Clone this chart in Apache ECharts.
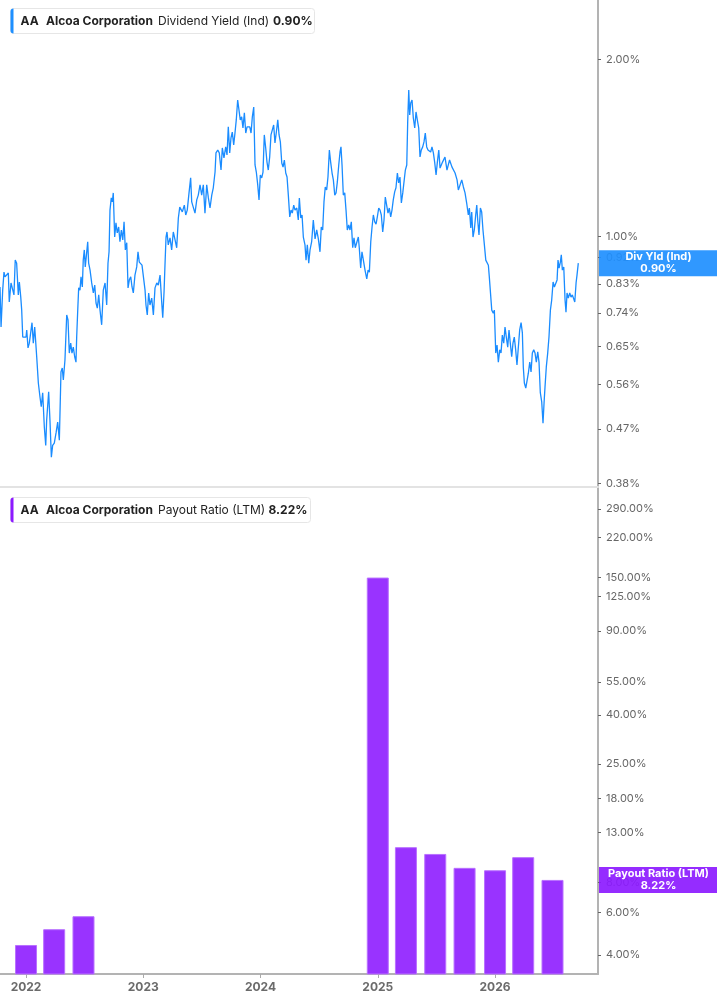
<!DOCTYPE html>
<html>
<head>
<meta charset="utf-8">
<title>AA Dividend Yield / Payout Ratio</title>
<script src="https://cdn.jsdelivr.net/npm/echarts@6.0.0/dist/echarts.min.js"></script>
<style>
    html, body { margin: 0; padding: 0; background: #fff; }
    #chart { width: 717px; height: 1005px; }
</style>
</head>
<body>
<div id="chart"></div>
<script>
// dividend yield (ind), % -- x is decimal year
const yldYears = [
    2021.778, 2021.787, 2021.801, 2021.812, 2021.821, 2021.835, 2021.849, 2021.857, 2021.872, 2021.886,
    2021.897, 2021.908, 2021.920, 2021.934, 2021.943, 2021.955, 2021.963, 2021.972, 2021.985, 2022.000,
    2022.006, 2022.017, 2022.028, 2022.040, 2022.051, 2022.062, 2022.074, 2022.091, 2022.105, 2022.119,
    2022.130, 2022.142, 2022.156, 2022.168, 2022.176, 2022.193, 2022.204, 2022.216, 2022.227, 2022.241,
    2022.256, 2022.270, 2022.284, 2022.298, 2022.309, 2022.318, 2022.332, 2022.347, 2022.358, 2022.369,
    2022.381, 2022.392, 2022.403, 2022.415, 2022.426, 2022.432, 2022.441, 2022.449, 2022.460, 2022.469,
    2022.480, 2022.488, 2022.497, 2022.505, 2022.517, 2022.526, 2022.534, 2022.546, 2022.560, 2022.574,
    2022.586, 2022.597, 2022.608, 2022.620, 2022.631, 2022.645, 2022.659, 2022.674, 2022.688, 2022.699,
    2022.708, 2022.716, 2022.727, 2022.736, 2022.744, 2022.756, 2022.767, 2022.778, 2022.790, 2022.801,
    2022.813, 2022.825, 2022.836, 2022.847, 2022.859, 2022.870, 2022.881, 2022.893, 2022.904, 2022.915,
    2022.929, 2022.944, 2022.955, 2022.966, 2022.978, 2022.989, 2023.000, 2023.015, 2023.023, 2023.034,
    2023.046, 2023.057, 2023.072, 2023.086, 2023.100, 2023.115, 2023.128, 2023.143, 2023.157, 2023.166,
    2023.177, 2023.185, 2023.194, 2023.202, 2023.213, 2023.228, 2023.242, 2023.256, 2023.271, 2023.285,
    2023.299, 2023.311, 2023.322, 2023.333, 2023.350, 2023.362, 2023.375, 2023.390, 2023.404, 2023.413,
    2023.427, 2023.441, 2023.456, 2023.469, 2023.484, 2023.498, 2023.512, 2023.526, 2023.541, 2023.555,
    2023.569, 2023.584, 2023.597, 2023.612, 2023.620, 2023.635, 2023.648, 2023.663, 2023.674, 2023.688,
    2023.703, 2023.714, 2023.725, 2023.737, 2023.748, 2023.759, 2023.771, 2023.782, 2023.793, 2023.805,
    2023.816, 2023.827, 2023.839, 2023.850, 2023.862, 2023.874, 2023.885, 2023.896, 2023.908, 2023.919,
    2023.930, 2023.942, 2023.953, 2023.964, 2023.976, 2023.987, 2023.998, 2024.010, 2024.021, 2024.032,
    2024.044, 2024.055, 2024.066, 2024.078, 2024.089, 2024.100, 2024.112, 2024.123, 2024.135, 2024.147,
    2024.158, 2024.169, 2024.181, 2024.192, 2024.203, 2024.215, 2024.226, 2024.237, 2024.249, 2024.260,
    2024.271, 2024.283, 2024.294, 2024.309, 2024.322, 2024.331, 2024.343, 2024.354, 2024.365, 2024.379,
    2024.388, 2024.399, 2024.411, 2024.422, 2024.436, 2024.450, 2024.465, 2024.479, 2024.493, 2024.507,
    2024.518, 2024.530, 2024.541, 2024.552, 2024.564, 2024.575, 2024.587, 2024.598, 2024.610, 2024.621,
    2024.633, 2024.644, 2024.655, 2024.667, 2024.678, 2024.686, 2024.695, 2024.706, 2024.718, 2024.729,
    2024.740, 2024.752, 2024.763, 2024.774, 2024.786, 2024.797, 2024.808, 2024.820, 2024.834, 2024.842,
    2024.854, 2024.865, 2024.877, 2024.891, 2024.906, 2024.917, 2024.928, 2024.940, 2024.951, 2024.962,
    2024.974, 2024.985, 2024.996, 2025.008, 2025.019, 2025.030, 2025.042, 2025.053, 2025.064, 2025.076,
    2025.087, 2025.098, 2025.110, 2025.121, 2025.132, 2025.144, 2025.155, 2025.167, 2025.178, 2025.189,
    2025.201, 2025.213, 2025.224, 2025.235, 2025.247, 2025.255, 2025.264, 2025.272, 2025.281, 2025.292,
    2025.303, 2025.315, 2025.326, 2025.337, 2025.349, 2025.360, 2025.371, 2025.383, 2025.394, 2025.405,
    2025.417, 2025.428, 2025.439, 2025.451, 2025.462, 2025.474, 2025.485, 2025.497, 2025.508, 2025.520,
    2025.531, 2025.552, 2025.573, 2025.590, 2025.612, 2025.633, 2025.659, 2025.676, 2025.687, 2025.716,
    2025.730, 2025.744, 2025.758, 2025.772, 2025.781, 2025.793, 2025.801, 2025.812, 2025.823, 2025.835,
    2025.844, 2025.852, 2025.863, 2025.875, 2025.886, 2025.897, 2025.909, 2025.921, 2025.932, 2025.943,
    2025.951, 2025.960, 2025.972, 2025.985, 2025.994, 2026.006, 2026.017, 2026.028, 2026.040, 2026.051,
    2026.062, 2026.074, 2026.085, 2026.096, 2026.108, 2026.119, 2026.130, 2026.142, 2026.153, 2026.164,
    2026.176, 2026.187, 2026.198, 2026.210, 2026.222, 2026.233, 2026.241, 2026.250, 2026.262, 2026.273,
    2026.284, 2026.296, 2026.307, 2026.318, 2026.330, 2026.341, 2026.352, 2026.364, 2026.375, 2026.386,
    2026.398, 2026.409, 2026.418, 2026.426, 2026.437, 2026.449, 2026.460, 2026.472, 2026.483, 2026.495,
    2026.506, 2026.518, 2026.529, 2026.537, 2026.546, 2026.557, 2026.565, 2026.574, 2026.586, 2026.597,
    2026.605, 2026.614, 2026.625, 2026.637, 2026.648, 2026.659, 2026.671, 2026.680, 2026.691, 2026.699,
    2026.710
]
const yldValues = [
    0.820, 0.701, 0.810, 0.869, 0.853, 0.859, 0.866, 0.773, 0.833, 0.836,
    0.795, 0.911, 0.900, 0.795, 0.836, 0.788, 0.749, 0.674, 0.671, 0.674,
    0.693, 0.646, 0.658, 0.653, 0.713, 0.658, 0.701, 0.624, 0.563, 0.533,
    0.513, 0.542, 0.474, 0.441, 0.487, 0.544, 0.487, 0.421, 0.441, 0.445,
    0.463, 0.483, 0.450, 0.588, 0.597, 0.570, 0.616, 0.735, 0.721, 0.633,
    0.658, 0.633, 0.648, 0.624, 0.611, 0.674, 0.749, 0.817, 0.810, 0.853,
    0.820, 0.911, 0.948, 0.887, 0.937, 0.979, 0.900, 0.876, 0.833, 0.801,
    0.826, 0.770, 0.755, 0.795, 0.749, 0.707, 0.810, 0.833, 0.764, 0.900,
    0.941, 1.108, 1.162, 1.144, 1.185, 0.997, 1.054, 1.013, 1.037, 0.979,
    1.025, 0.986, 1.058, 0.948, 0.975, 0.817, 0.843, 0.853, 0.820, 0.801,
    0.859, 0.887, 0.941, 0.904, 0.911, 0.893, 0.887, 0.810, 0.764, 0.735,
    0.801, 0.764, 0.785, 0.735, 0.817, 0.833, 0.826, 0.859, 0.773, 0.727,
    0.804, 0.893, 0.997, 1.017, 0.967, 0.994, 0.948, 1.017, 0.986, 0.956,
    1.074, 1.121, 1.117, 1.100, 1.130, 1.087, 1.108, 1.185, 1.257, 1.144,
    1.139, 1.095, 1.153, 1.175, 1.223, 1.175, 1.223, 1.095, 1.223, 1.162,
    1.117, 1.175, 1.209, 1.286, 1.386, 1.402, 1.386, 1.296, 1.413, 1.359,
    1.419, 1.375, 1.535, 1.386, 1.470, 1.504, 1.430, 1.498, 1.577, 1.705,
    1.692, 1.577, 1.596, 1.528, 1.621, 1.498, 1.535, 1.528, 1.535, 1.498,
    1.596, 1.659, 1.322, 1.286, 1.223, 1.153, 1.271, 1.257, 1.286, 1.487,
    1.413, 1.337, 1.296, 1.364, 1.487, 1.476, 1.546, 1.441, 1.504, 1.577,
    1.487, 1.447, 1.332, 1.311, 1.348, 1.281, 1.261, 1.175, 1.079, 1.108,
    1.095, 1.130, 1.108, 1.117, 1.066, 1.162, 1.074, 1.087, 0.997, 0.967,
    0.911, 0.967, 0.900, 0.948, 0.979, 1.066, 0.990, 1.025, 0.990, 0.941,
    1.037, 1.025, 1.144, 1.213, 1.199, 1.261, 1.402, 1.337, 1.281, 1.247,
    1.175, 1.185, 1.237, 1.322, 1.391, 1.419, 1.322, 1.175, 1.185, 1.108,
    1.025, 1.045, 1.025, 1.058, 0.956, 0.994, 0.956, 0.975, 0.997, 0.956,
    0.883, 0.941, 0.911, 0.876, 0.846, 0.876, 0.869, 0.979, 1.037, 1.087,
    1.058, 1.049, 1.079, 1.117, 1.108, 1.087, 1.017, 1.066, 1.166, 1.166,
    1.095, 1.117, 1.079, 1.108, 1.153, 1.190, 1.209, 1.281, 1.232, 1.261,
    1.139, 1.185, 1.190, 1.296, 1.322, 1.565, 1.773, 1.608, 1.685, 1.705,
    1.589, 1.528, 1.627, 1.577, 1.528, 1.364, 1.402, 1.419, 1.447, 1.498,
    1.419, 1.402, 1.413, 1.391, 1.419, 1.386, 1.337, 1.271, 1.337, 1.402,
    1.306, 1.337, 1.364, 1.296, 1.348, 1.311, 1.281, 1.247, 1.199, 1.247,
    1.213, 1.185, 1.139, 1.087, 1.117, 1.033, 1.100, 0.997, 1.025, 1.087,
    1.130, 1.066, 1.005, 1.117, 1.100, 1.025, 0.967, 0.911, 0.918, 0.893,
    0.853, 0.859, 0.749, 0.740, 0.749, 0.633, 0.653, 0.611, 0.641, 0.633,
    0.679, 0.658, 0.701, 0.674, 0.648, 0.693, 0.658, 0.624, 0.658, 0.674,
    0.641, 0.604, 0.604, 0.693, 0.713, 0.685, 0.599, 0.563, 0.552, 0.548,
    0.585, 0.611, 0.588, 0.633, 0.641, 0.633, 0.611, 0.636, 0.611, 0.542,
    0.523, 0.481, 0.521, 0.554, 0.599, 0.633, 0.674, 0.749, 0.779, 0.836,
    0.820, 0.820, 0.843, 0.911, 0.883, 0.904, 0.930, 0.876, 0.887, 0.779,
    0.743, 0.801, 0.785, 0.801, 0.788, 0.795, 0.801, 0.773, 0.833, 0.859,
    0.900
]

// payout ratio (LTM), % -- quarterly
const payYears = [2022.00, 2022.24, 2022.49, 2025.00, 2025.24, 2025.49, 2025.74, 2026.00, 2026.24, 2026.49]
const payValues = [4.40, 5.12, 5.80, 150.0, 11.26, 10.55, 9.23, 9.02, 10.23, 8.22]

// axis ticks
const yearTicks = [2022, 2023, 2024, 2025, 2026]
const yldTicks = [0.38, 0.47, 0.56, 0.65, 0.74, 0.83, 0.92, 1.00, 2.00]
const payTicks = [4, 6, 8, 13, 18, 25, 40, 55, 90, 125, 150, 220, 290]

const lastYld = 0.90
const lastPay = 8.22

const FONT = 'Inter, "Noto Sans", sans-serif'
const BLUE = '#1a8cff'
const PURPLE = '#9933ff'

const titleBox = (top, accent, metric, value, width, valueX) => ({
    type: 'group',
    left: 10,
    top: top,
    children: [
        {
            type: 'rect',
            shape: { x: 0, y: 0, width: width, height: 25, r: 3 },
            style: { fill: '#fff', stroke: '#e6e6e6', lineWidth: 1 }
        },
        {
            type: 'rect',
            shape: { x: 0, y: 0, width: 3, height: 25, r: [3, 0, 0, 3] },
            style: { fill: accent }
        },
        {
            type: 'text', x: 10, y: 13,
            style: { text: 'AA', font: `bold 12px ${FONT}`, fill: '#222', verticalAlign: 'middle' }
        },
        {
            type: 'text', x: 35.5, y: 13,
            style: { text: 'Alcoa Corporation', font: `bold 12px ${FONT}`, fill: '#222', verticalAlign: 'middle' }
        },
        {
            type: 'text', x: 147.5, y: 13,
            style: { text: metric, font: `12px ${FONT}`, fill: '#222', verticalAlign: 'middle' }
        },
        {
            type: 'text', x: valueX, y: 13,
            style: { text: value, font: `bold 12px ${FONT}`, fill: '#222', verticalAlign: 'middle' }
        }
    ]
})

// value tag sitting on the right axis, placed at the value's pixel through the axis scale
const axisTag = (x, y, name, value, color) => ({
    type: 'group',
    x: x,
    y: y - 13,
    z: 100,
    children: [
        {
            type: 'rect',
            z: 100,
            shape: { x: 0, y: 0, width: 119, height: 26 },
            style: { fill: color, opacity: 0.92 }
        },
        {
            type: 'text', x: 59.5, y: 7,
            z: 101,
            style: { text: name, font: `bold 11px ${FONT}`, fill: '#fff', align: 'center', verticalAlign: 'middle' }
        },
        {
            type: 'text', x: 59.5, y: 19,
            z: 101,
            style: { text: value.toFixed(2) + '%', font: `bold 11px ${FONT}`, fill: '#fff', align: 'center', verticalAlign: 'middle' }
        }
    ]
})

onload = () => {
    let chartDom = document.getElementById('chart')
    let myChart = echarts.init(chartDom, null, { renderer: 'canvas' })
    let option

    let yldData = yldYears.map((t, i) => [t, yldValues[i]])
    let payData = payYears.map((t, i) => [t, payValues[i]])

    option = {
        animation: false,
        backgroundColor: '#fff',
        textStyle: { fontFamily: FONT },
        grid: [
            { left: 0, right: 119, top: 0, height: 487, outerBoundsMode: 'none' },
            { left: 0, right: 119, top: 487, bottom: 31, outerBoundsMode: 'none' }
        ],
        xAxis: [
            {
                gridIndex: 0,
                type: 'value',
                min: 2021.778,
                max: 2026.878,
                axisLine: { show: true, lineStyle: { color: '#e3e3e3', width: 2 } },
                axisTick: { show: false },
                axisLabel: { show: false },
                splitLine: { show: false }
            },
            {
                gridIndex: 1,
                type: 'value',
                min: 2021.778,
                max: 2026.878,
                axisLine: { show: true, lineStyle: { color: '#b3b3b3', width: 2 } },
                axisTick: {
                    show: true,
                    customValues: yearTicks,
                    length: 4,
                    lineStyle: { color: '#aaa', width: 1 }
                },
                axisLabel: {
                    customValues: yearTicks,
                    formatter: v => String(Math.round(v)),
                    color: '#6b6b6b',
                    fontSize: 12,
                    fontWeight: 'bold',
                    fontFamily: FONT,
                    margin: 7
                },
                splitLine: { show: false }
            }
        ],
        yAxis: [
            {
                gridIndex: 0,
                type: 'log',
                logBase: 10,
                position: 'right',
                min: 0.3747,
                max: 2.522,
                axisLine: { show: true, lineStyle: { color: '#b3b3b3', width: 2 } },
                axisTick: {
                    show: true,
                    customValues: yldTicks,
                    length: 3,
                    lineStyle: { color: '#666' }
                },
                axisLabel: {
                    customValues: yldTicks,
                    formatter: v => v.toFixed(2) + '%',
                    color: '#666',
                    fontSize: 11,
                    fontFamily: FONT,
                    margin: 8
                },
                splitLine: { show: false }
            },
            {
                gridIndex: 1,
                type: 'log',
                logBase: 10,
                position: 'right',
                min: 3.33,
                max: 358,
                axisLine: { show: true, lineStyle: { color: '#b3b3b3', width: 2 } },
                axisTick: {
                    show: true,
                    customValues: payTicks,
                    length: 3,
                    lineStyle: { color: '#666' }
                },
                axisLabel: {
                    customValues: payTicks,
                    formatter: v => v.toFixed(2) + '%',
                    color: '#666',
                    fontSize: 11,
                    fontFamily: FONT,
                    margin: 8
                },
                splitLine: { show: false }
            }
        ],
        series: [
            {
                name: 'Dividend Yield (Ind)',
                type: 'line',
                xAxisIndex: 0,
                yAxisIndex: 0,
                data: yldData,
                showSymbol: false,
                lineStyle: { color: BLUE, width: 1.3 },
                itemStyle: { color: BLUE }
            },
            {
                name: 'Payout Ratio (LTM)',
                type: 'bar',
                xAxisIndex: 1,
                yAxisIndex: 1,
                data: payData,
                barWidth: 22,
                clip: true,
                itemStyle: { color: PURPLE, borderColor: '#b870ff', borderWidth: 1 }
            }
        ]
    }

    option && myChart.setOption(option)

    // tags for the latest values, y from the axis scale
    let axisX = myChart.convertToPixel({ xAxisIndex: 0 }, 2026.878)
    let yldY = myChart.convertToPixel({ yAxisIndex: 0 }, lastYld)
    let payY = myChart.convertToPixel({ yAxisIndex: 1 }, lastPay)

    myChart.setOption({
        graphic: [
            titleBox(8, '#1e8fff', 'Dividend Yield (Ind)', '0.90%', 304, 262.5),
            titleBox(497, '#8c1aff', 'Payout Ratio (LTM)', '8.22%', 300, 258),
            axisTag(axisX + 1, yldY, 'Div Yld (Ind)', lastYld, '#1e8fff'),
            axisTag(axisX + 1, payY, 'Payout Ratio (LTM)', lastPay, '#8c1aff')
        ]
    })
}
</script>
</body>
</html>
